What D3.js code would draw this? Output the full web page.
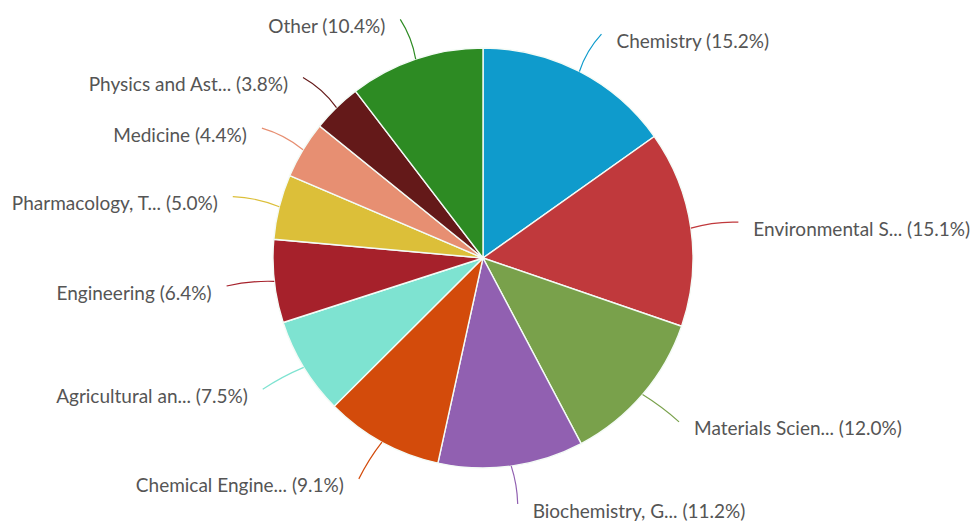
<!DOCTYPE html>
<html>
<head>
<meta charset="utf-8">
<script src="https://cdn.jsdelivr.net/npm/d3@7"></script>
<style>
  html, body { margin: 0; padding: 0; background: #fff; }
  svg text { font-family: Lato, "Open Sans", sans-serif; fill: #555; }
</style>
</head>
<body>
<svg id="chart" width="973" height="522"></svg>
<script>
// Documents by subject area (share of total, %)
const subjects = [
  "Chemistry",
  "Environmental S...",
  "Materials Scien...",
  "Biochemistry, G...",
  "Chemical Engine...",
  "Agricultural an...",
  "Engineering",
  "Pharmacology, T...",
  "Medicine",
  "Physics and Ast...",
  "Other"
];
const shares = [15.2, 15.1, 12.0, 11.2, 9.1, 7.5, 6.4, 5.0, 4.4, 3.8, 10.4];
const colors = [
  "#0f9bcc", "#c0393c", "#79a14b", "#9160b1", "#d34b0b", "#7ee3d1",
  "#a6212b", "#dcbf39", "#e78f72", "#641919", "#2d8b23"
];

const width = 973, height = 522;
const cx = 483, cy = 258, radius = 210;
// label anchors sit on a slightly flattened ring outside the pie
const labelRx = 258, labelRy = 252;
const labelMaxY = 246;   // keep the lowest labels inside the drawing area
const labelGap = 15;

const svg = d3.select("#chart");
const g = svg.append("g").attr("transform", `translate(${cx},${cy})`);

const data = subjects.map((name, i) => ({ name, value: shares[i], color: colors[i] }));

const pie = d3.pie().sort(null).value(d => d.value);
const arc = d3.arc().innerRadius(0).outerRadius(radius);
const arcs = pie(data);

g.selectAll("path.slice")
  .data(arcs)
  .join("path")
  .attr("class", "slice")
  .attr("d", arc)
  .attr("fill", d => d.data.color)
  .attr("stroke", "#f4fbf6")
  .attr("stroke-width", 1.4);

// angle measured clockwise from 12 o'clock
const mid = d => (d.startAngle + d.endAngle) / 2;
const rim = d => [radius * Math.sin(mid(d)), -radius * Math.cos(mid(d))];
const anchor = d => {
  const a = mid(d);
  return [labelRx * Math.sin(a), Math.min(-labelRy * Math.cos(a), labelMaxY)];
};
const onRight = d => Math.sin(mid(d)) >= 0;

// leader lines from the rim out to the label anchor
g.selectAll("path.leader")
  .data(arcs)
  .join("path")
  .attr("class", "leader")
  .attr("fill", "none")
  .attr("stroke", d => d.data.color)
  .attr("stroke-width", 1.2)
  .attr("d", d => {
    const p0 = rim(d), p1 = anchor(d);
    const c = [(p0[0] + p1[0]) / 2, (p0[1] + p1[1]) / 2];
    const a = mid(d) + (onRight(d) ? -0.015 : 0.015);
    const rc = Math.hypot(c[0], c[1]);
    const pc = [rc * Math.sin(a), -rc * Math.cos(a)];
    return `M${p0[0]},${p0[1]}Q${pc[0]},${pc[1]} ${p1[0]},${p1[1]}`;
  });

// labels
g.selectAll("text.label")
  .data(arcs)
  .join("text")
  .attr("class", "label")
  .attr("font-size", 19)
  .attr("dominant-baseline", "central")
  .attr("text-anchor", d => onRight(d) ? "start" : "end")
  .attr("x", d => anchor(d)[0] + (onRight(d) ? labelGap : -labelGap))
  .attr("y", d => anchor(d)[1] + 6)
  .text(d => `${d.data.name} (${d.data.value.toFixed(1)}%)`);
</script>
</body>
</html>
